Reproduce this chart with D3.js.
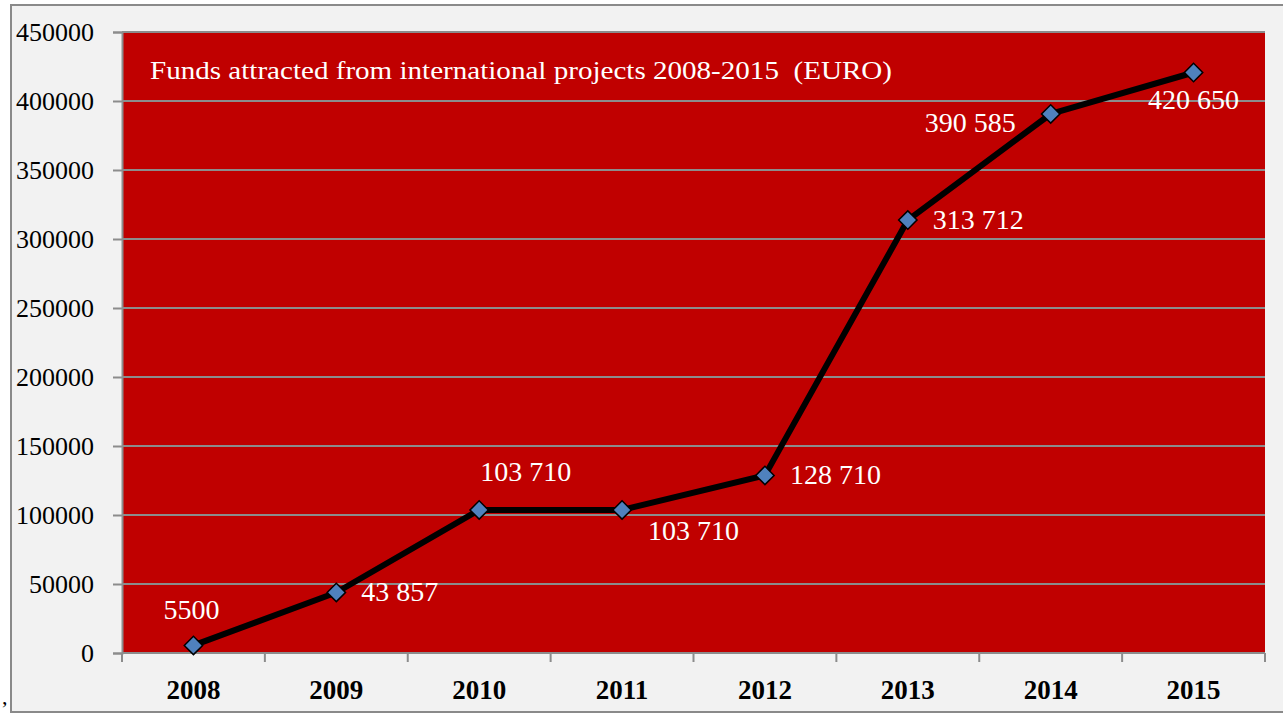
<!DOCTYPE html>
<html>
<head>
<meta charset="utf-8">
<script src="https://cdn.jsdelivr.net/npm/d3@7"></script>
<style>
  body { margin: 0; background: #fff; }
  svg { display: block; }
</style>
</head>
<body>
<div id="chart"></div>
<script>
// data
const years = ["2008", "2009", "2010", "2011", "2012", "2013", "2014", "2015"];
const funds = [5500, 43857, 103710, 103710, 128710, 313712, 390585, 420650];
const fundLabels = ["5500", "43 857", "103 710", "103 710", "128 710", "313 712", "390 585", "420 650"];
const yTicks = [0, 50000, 100000, 150000, 200000, 250000, 300000, 350000, 400000, 450000];
const title = "Funds attracted from international projects 2008-2015\u00a0\u00a0(EURO)";

// where each value label sits relative to its point
const labelPlace = ["above", "right", "aboveRight", "belowRight", "right", "right", "left", "below"];

const width = 1283, height = 713;
const margin = { top: 32, right: 18, bottom: 60, left: 122 };
const serif = "'Liberation Serif', 'DejaVu Serif', serif";

const svg = d3.select("#chart")
  .append("svg")
  .attr("width", width)
  .attr("height", height);

// chart background + frame
svg.append("rect")
  .attr("x", 11).attr("y", 5)
  .attr("width", width + 10).attr("height", 707)
  .attr("fill", "#f2f2f2")
  .attr("stroke", "#8a8a8a")
  .attr("stroke-width", 2);

svg.append("text")
  .attr("x", 2).attr("y", 704)
  .attr("font-family", serif)
  .attr("font-size", 22)
  .text(",");

const x = d3.scaleBand()
  .domain(years)
  .range([margin.left, width - margin.right]);

const y = d3.scaleLinear()
  .domain([0, 450000])
  .range([height - margin.bottom, margin.top]);

// plot area
svg.append("rect")
  .attr("x", margin.left)
  .attr("y", margin.top)
  .attr("width", width - margin.right - margin.left)
  .attr("height", height - margin.bottom - margin.top)
  .attr("fill", "#c00000");

// gridlines
svg.append("g")
  .selectAll("line")
  .data(yTicks.filter((d) => d > 0))
  .join("line")
  .attr("x1", margin.left)
  .attr("x2", width - margin.right)
  .attr("y1", (d) => y(d))
  .attr("y2", (d) => y(d))
  .attr("stroke", "#8c8c8c")
  .attr("stroke-width", 2);

// y axis
const yAxis = svg.append("g")
  .attr("transform", `translate(${margin.left},0)`)
  .call(d3.axisLeft(y).tickValues(yTicks).tickFormat(d3.format("d")).tickSize(9).tickPadding(19));
yAxis.selectAll("path, line").attr("stroke", "#8c8c8c").attr("stroke-width", 2);
yAxis.selectAll("text")
  .attr("font-family", serif)
  .attr("font-size", 26)
  .attr("fill", "#000");

// x axis, ticks at band edges
const xAxis = svg.append("g")
  .attr("transform", `translate(0,${height - margin.bottom})`);
xAxis.append("line")
  .attr("x1", margin.left).attr("x2", width - margin.right)
  .attr("stroke", "#8c8c8c").attr("stroke-width", 2);
xAxis.selectAll(".edge")
  .data(years.concat(["end"]))
  .join("line")
  .attr("class", "edge")
  .attr("x1", (d, i) => margin.left + i * x.step())
  .attr("x2", (d, i) => margin.left + i * x.step())
  .attr("y1", 0).attr("y2", 9)
  .attr("stroke", "#8c8c8c").attr("stroke-width", 2);
xAxis.selectAll(".year")
  .data(years)
  .join("text")
  .attr("class", "year")
  .attr("x", (d) => x(d) + x.bandwidth() / 2)
  .attr("y", 46)
  .attr("text-anchor", "middle")
  .attr("font-family", serif)
  .attr("font-weight", "bold")
  .attr("font-size", 27)
  .text((d) => d);

// title
svg.append("text")
  .attr("x", 150)
  .attr("y", 79)
  .attr("fill", "#fff")
  .attr("font-family", serif)
  .attr("font-size", 25)
  .attr("textLength", 742)
  .attr("lengthAdjust", "spacingAndGlyphs")
  .text(title);

const pts = years.map((yr, i) => ({ year: yr, value: funds[i], label: fundLabels[i], place: labelPlace[i] }));
const cx = (d) => x(d.year) + x.bandwidth() / 2;

svg.append("path")
  .datum(pts)
  .attr("fill", "none")
  .attr("stroke", "#000")
  .attr("stroke-width", 6)
  .attr("stroke-linejoin", "round")
  .attr("d", d3.line().x(cx).y((d) => y(d.value)));

svg.append("g")
  .selectAll("rect")
  .data(pts)
  .join("rect")
  .attr("x", -6.5).attr("y", -6.5)
  .attr("width", 13).attr("height", 13)
  .attr("transform", (d) => `translate(${cx(d)},${y(d.value)}) rotate(45)`)
  .attr("fill", "#4f81bd")
  .attr("stroke", "#000")
  .attr("stroke-width", 1.5);

const offsets = {
  above: { dx: -2, dy: -26, anchor: "middle" },
  right: { dx: 25, dy: 9, anchor: "start" },
  aboveRight: { dx: 1, dy: -29, anchor: "start" },
  belowRight: { dx: 26, dy: 30, anchor: "start" },
  left: { dx: -35, dy: 18, anchor: "end" },
  below: { dx: 0, dy: 36, anchor: "middle" },
};

svg.append("g")
  .selectAll("text")
  .data(pts)
  .join("text")
  .attr("x", (d) => cx(d) + offsets[d.place].dx)
  .attr("y", (d) => y(d.value) + offsets[d.place].dy)
  .attr("text-anchor", (d) => offsets[d.place].anchor)
  .attr("fill", "#fff")
  .attr("font-family", serif)
  .attr("font-size", 28)
  .text((d) => d.label);
</script>
</body>
</html>
